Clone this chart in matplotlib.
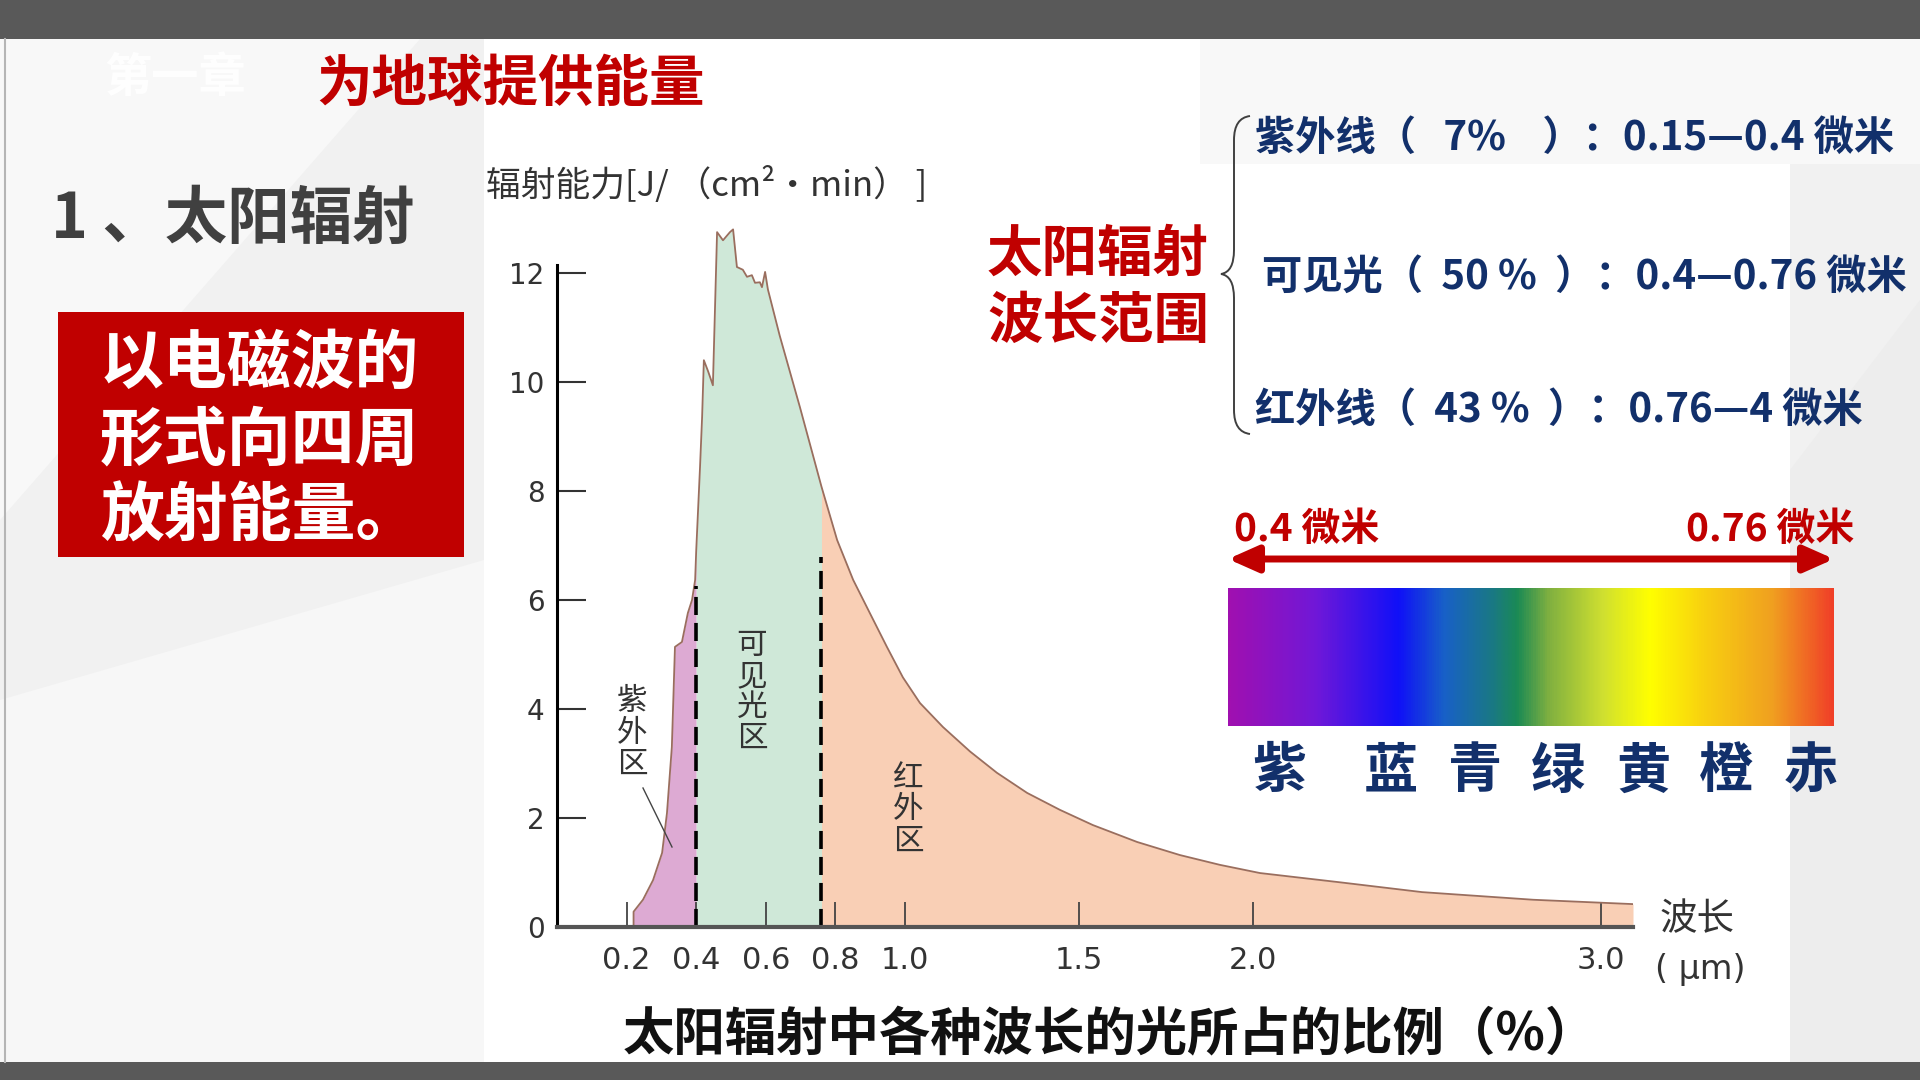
import numpy as np
import matplotlib.pyplot as plt
from matplotlib.colors import LinearSegmentedColormap
from matplotlib.patches import Rectangle, Polygon, PathPatch, FancyArrowPatch
from matplotlib.path import Path

plt.rcParams['font.family'] = ['Noto Sans CJK SC', 'DejaVu Sans']

# solar spectrum: wavelength (um) and radiant energy
wave = [0.22, 0.22, 0.247, 0.276, 0.302, 0.316, 0.330, 0.339, 0.359, 0.376,
        0.388, 0.397, 0.40, 0.411, 0.417, 0.422, 0.434, 0.448, 0.460, 0.477,
        0.497, 0.506, 0.517, 0.534, 0.546, 0.560, 0.569, 0.583, 0.589, 0.598,
        0.606, 0.640, 0.698, 0.76, 0.805, 0.851, 0.899, 0.948, 0.994, 1.043,
        1.109, 1.187, 1.264, 1.351, 1.445, 1.540, 1.667, 1.790, 1.905, 2.020,
        2.25, 2.486, 2.805, 3.092]
energy = [0.0, 0.28, 0.5, 0.86, 1.36, 2.09, 3.3, 5.14, 5.23, 5.76,
          6.0, 6.37, 6.9, 8.44, 9.36, 10.40, 10.2, 9.94, 12.75, 12.6,
          12.75, 12.8, 12.11, 12.06, 11.93, 11.96, 11.82, 11.83, 11.74, 12.02,
          11.70, 10.85, 9.54, 8.08, 7.10, 6.37, 5.76, 5.14, 4.58, 4.11,
          3.67, 3.22, 2.83, 2.46, 2.15, 1.87, 1.56, 1.32, 1.14, 0.99,
          0.82, 0.64, 0.50, 0.42]

uv_edge, ir_edge = 0.4, 0.76
uv_dash_top, ir_dash_top = 6.25, 6.78

xticks = [0.2, 0.4, 0.6, 0.8, 1.0, 1.5, 2.0, 3.0]
xticklabels = ['0.2', '0.4', '0.6', '0.8', '1.0', '1.5', '2.0', '3.0']
yticks = [0, 2, 4, 6, 8, 10, 12]

bands = ['紫外线（   7%    ）：0.15—0.4 微米',
         '可见光（  50 %  ）：0.4—0.76 微米',
         '红外线（  43 %  ）：0.76—4 微米']
box_lines = ['以电磁波的', '形式向四周', '放射能量。']
color_names = ['紫', '蓝', '青', '绿', '黄', '橙', '赤']
spec_pos = [0, 0.144, 0.28, 0.356, 0.44, 0.477, 0.53, 0.62, 0.697, 0.788, 0.9, 1.0]
spec_col = ['#A010B0', '#7018D8', '#1010F8', '#1860C8', '#1A7A80', '#1A8A55',
            '#80B040', '#D0E030', '#FFFF00', '#F8D010', '#F0A020', '#F04028']

RED = '#C00000'
NAVY = '#12306B'
GRAY_TXT = '#333333'

fig = plt.figure(figsize=(19.2, 10.8), dpi=100, facecolor='#F1F1F1')

# slide layer in pixel coordinates
bg = fig.add_axes([0, 0, 1, 1], zorder=0)
bg.set_xlim(0, 1920)
bg.set_ylim(1080, 0)
bg.axis('off')

bg.add_patch(Polygon([(0, 39), (420, 39), (0, 520)], color='#F8F8F8', lw=0))
bg.add_patch(Polygon([(0, 700), (484, 560), (484, 1062), (0, 1062)], color='#F7F7F7', lw=0))
bg.add_patch(Polygon([(1790, 470), (1920, 300), (1920, 1062), (1790, 1062)], color='#EDEDED', lw=0))
bg.add_patch(Rectangle((484, 39), 1306, 1023, color='white', lw=0))
bg.add_patch(Rectangle((1200, 39), 720, 125, color='#F8F8F8', lw=0))
bg.add_patch(Rectangle((0, 0), 1920, 39, color='#595959', lw=0))
bg.add_patch(Rectangle((0, 1062), 1920, 18, color='#595959', lw=0))
bg.plot([5, 5], [39, 1062], color='#B5B5B5', lw=1.5)

bg.text(104, 78, '第一章', color='white', fontsize=34, fontweight='bold', va='center', alpha=0.9)
bg.text(316, 85, '为地球提供能量', color=RED, fontsize=40, fontweight='bold', va='center')
bg.text(51, 219, '1 、太阳辐射', color='#404040', fontsize=45, fontweight='bold', va='center')

bg.add_patch(Rectangle((58, 312), 406, 245, color=RED, lw=0))
for line, yy in zip(box_lines, [364, 441, 517]):
    bg.text(100, yy, line, color='white', fontsize=46, fontweight='bold', va='center')

bg.text(486, 186, '辐射能力[J/ （cm²·min） ]', color=GRAY_TXT, fontsize=25, va='center')

bg.text(987, 255, '太阳辐射', color=RED, fontsize=40, fontweight='bold', va='center')
bg.text(987, 322, '波长范围', color=RED, fontsize=40, fontweight='bold', va='center')

# curly brace
brace = Path([(1250, 116), (1234, 118), (1234, 140), (1234, 250), (1234, 272), (1221, 274),
              (1234, 276), (1234, 298), (1234, 410), (1234, 432), (1250, 434)],
             [Path.MOVETO, Path.CURVE3, Path.CURVE3, Path.LINETO, Path.CURVE3, Path.CURVE3,
              Path.CURVE3, Path.CURVE3, Path.LINETO, Path.CURVE3, Path.CURVE3])
bg.add_patch(PathPatch(brace, fill=False, ec='#404040', lw=1.4))

for txt, xx, yy in zip(bands, [1255, 1262, 1255], [138, 277, 410]):
    bg.text(xx, yy, txt, color=NAVY, fontsize=29, fontweight='bold', va='center')

bg.text(1234, 529, '0.4 微米', color=RED, fontsize=28, fontweight='bold', va='center')
bg.text(1854, 529, '0.76 微米', color=RED, fontsize=28, fontweight='bold', va='center', ha='right')
bg.add_patch(FancyArrowPatch((1228, 559), (1834, 559),
                             arrowstyle='<|-|>,head_length=0.9,head_width=0.4',
                             mutation_scale=20, color=RED, lw=5, shrinkA=0, shrinkB=0))

cmap = LinearSegmentedColormap.from_list('spec', list(zip(spec_pos, spec_col)))
bg.imshow(np.linspace(0, 1, 600)[None, :], cmap=cmap, aspect='auto',
          extent=(1228, 1834, 726, 588), interpolation='bilinear', zorder=3)
for name, xx in zip(color_names, [1279, 1391, 1475, 1558, 1643, 1726, 1811]):
    bg.text(xx, 772, name, color=NAVY, fontsize=39, fontweight='bold', ha='center', va='center')

bg.text(1110, 1035, '太阳辐射中各种波长的光所占的比例（%）', color='#111111',
        fontsize=37, fontweight='bold', ha='center', va='center')

# chart layer
ax = fig.add_axes([557 / 1920, 153 / 1080, 1076 / 1920, 13 * 54.5 / 1080], zorder=1)
ax.patch.set_alpha(0)
ax.set_xlim(0, 3.092)
ax.set_ylim(0, 13)

w = np.array(wave)
e = np.array(energy)
ax.fill_between(w, e, where=w <= uv_edge, color='#DDAAD3', lw=0)
ax.fill_between(w, e, where=(w >= uv_edge) & (w <= ir_edge), color='#CFE8D8', lw=0)
ax.fill_between(w, e, where=w >= ir_edge, color='#F9CFB5', lw=0)
ax.plot(w, e, color='#9A6E5E', lw=1.3)
ax.vlines([uv_edge, ir_edge], 0, [uv_dash_top, ir_dash_top], colors='black',
          linestyles=(0, (5, 2.2)), lw=2.6)

for s in ['top', 'right']:
    ax.spines[s].set_visible(False)
ax.spines['left'].set_bounds(0, 12.15)
ax.spines['left'].set_linewidth(2.2)
ax.spines['left'].set_color('black')
ax.spines['bottom'].set_linewidth(3)
ax.spines['bottom'].set_color('#555555')

ax.set_xticks(xticks)
ax.set_xticklabels(xticklabels)
ax.set_yticks(yticks)
ax.tick_params(axis='x', direction='in', length=18, width=1.3, colors='#444444',
               labelsize=22, pad=14, labelcolor=GRAY_TXT)
ax.tick_params(axis='y', direction='in', length=21, width=1.5, colors='#333333',
               labelsize=20, pad=9, labelcolor=GRAY_TXT)
for lab in ax.get_xticklabels() + ax.get_yticklabels():
    lab.set_family('DejaVu Sans')

# region labels inside the chart layer, placed in slide pixels
ax.text(632, 733, '紫\n外\n区', transform=bg.transData, fontsize=22, color=GRAY_TXT,
        ha='center', va='center', linespacing=1.0)
ax.plot([643, 672], [788, 847], transform=bg.transData, color='#444444', lw=1, clip_on=False)
ax.text(752, 692, '可\n见\n光\n区', transform=bg.transData, fontsize=22, color=GRAY_TXT,
        ha='center', va='center', linespacing=1.0)
ax.text(908, 810, '红\n外\n区', transform=bg.transData, fontsize=22, color=GRAY_TXT,
        ha='center', va='center', linespacing=1.0)
ax.text(1697, 920, '波长', transform=bg.transData, fontsize=27, color=GRAY_TXT,
        ha='center', va='center')
ax.text(1700, 970, '( μm)', transform=bg.transData, fontsize=24, color=GRAY_TXT,
        ha='center', va='center', family='DejaVu Sans')

fig.savefig('out.png', dpi=100, facecolor=fig.get_facecolor())
